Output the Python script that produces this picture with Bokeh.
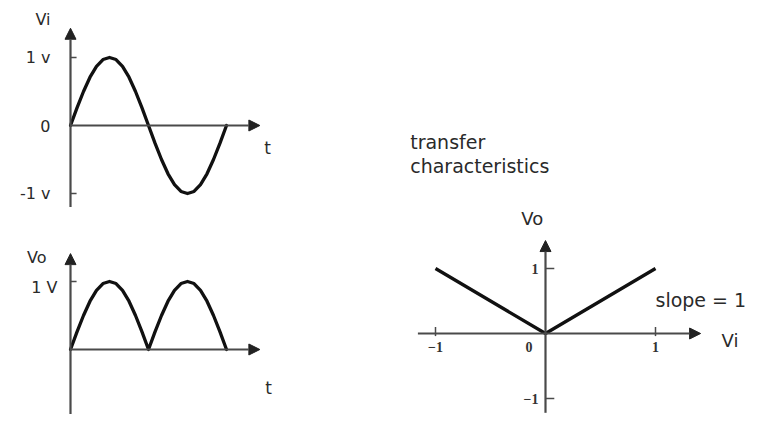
from bokeh.plotting import figure
from bokeh.models import Range1d, Arrow, NormalHead
from bokeh.core.properties import value
from bokeh.embed import file_html
from bokeh.resources import INLINE

# ---------------- data ----------------
phase_deg = [0, 15, 30, 45, 60, 75, 90, 105, 120, 135, 150, 165, 180,
             195, 210, 225, 240, 255, 270, 285, 300, 315, 330, 345, 360]
vi_values = [0, 0.26, 0.5, 0.71, 0.87, 0.97, 1.0, 0.97, 0.87, 0.71, 0.5, 0.26, 0,
             -0.26, -0.5, -0.71, -0.87, -0.97, -1.0, -0.97, -0.87, -0.71, -0.5, -0.26, 0]
vo_values = [0, 0.26, 0.5, 0.71, 0.87, 0.97, 1.0, 0.97, 0.87, 0.71, 0.5, 0.26, 0,
             0.26, 0.5, 0.71, 0.87, 0.97, 1.0, 0.97, 0.87, 0.71, 0.5, 0.26, 0]

vi_tick_vals = [1, 0, -1]
vi_tick_labels = ["1 v", "0", "-1 v"]
vo_tick_vals = [1]
vo_tick_labels = ["1 V"]

tc_vi = [-1, 0, 1]
tc_vo = [1, 0, 1]
tc_x_ticks = [-1, 1]
tc_x_tick_labels = ["\u22121", "0", "1"]
tc_x_label_pos = [-1, -0.15, 1]
tc_y_ticks = [1, -1]
tc_y_tick_labels = ["1", "\u22121"]

title_lines = ["transfer", "characteristics"]

# ---------------- figure ----------------
W, H = 766, 414
p = figure(width=W, height=H, output_backend="svg", toolbar_location=None,
           x_range=Range1d(0, W), y_range=Range1d(0, H), min_border=0,
           x_axis_type=None, y_axis_type=None)
p.grid.visible = False
p.outline_line_color = None
p.background_fill_color = "white"


def span(v0, p0, v1, p1, lo, hi):
    k = (v1 - v0) / (p1 - p0)
    return Range1d(start=v0 + (lo - p0) * k, end=v0 + (hi - p0) * k)


# picture pixel anchors (frame spans x 0..W, y 0..H)
p.extra_x_ranges = {
    "wave": span(0, 70, 360, 226, 0, W),
    "tc": span(0, 545, 1, 655, 0, W),
}
p.extra_y_ranges = {
    "vi": span(0, 125, 1, 57, H, 0),
    "vo": span(0, 349, 1, 281, H, 0),
    "tc": span(0, 333, 1, 268, H, 0),
}

AX = "#4a4a4a"
CUR = "#111111"
TXT = "#2a2a2a"
SANS = value("DejaVu Sans")


def arrow(x0, y0, x1, y1, xr, yr):
    p.add_layout(Arrow(x_start=x0, y_start=y0, x_end=x1, y_end=y1,
                       end=NormalHead(size=11, fill_color="#222222", line_color="#222222", line_width=1),
                       line_width=2.2, line_color=AX, x_range_name=xr, y_range_name=yr))


# ---- Vi plot ----
arrow(0, -1.2, 0, 1.43, "wave", "vi")
arrow(0, 0, 437, 0, "wave", "vi")
p.segment(x0=[0] * 2, y0=[1, -1], x1=[14] * 2, y1=[1, -1], x_range_name="wave", y_range_name="vi",
          line_color=AX, line_width=1.5)
p.line(phase_deg, vi_values, x_range_name="wave", y_range_name="vi",
       line_width=3.3, line_color=CUR, line_join="round", line_cap="round")
p.text(x=[0] * 3, y=vi_tick_vals, text=vi_tick_labels, x_range_name="wave", y_range_name="vi",
       x_offset=-20, text_align="right", text_baseline="middle", text_font=SANS,
       text_font_size="16px", text_color=TXT)
p.text(x=[0], y=[1.56], text=["Vi"], x_range_name="wave", y_range_name="vi",
       x_offset=-20, text_align="right", text_baseline="middle", text_font=SANS,
       text_font_size="16px", text_color=TXT)
p.text(x=[455], y=[-0.33], text=["t"], x_range_name="wave", y_range_name="vi",
       text_align="center", text_baseline="middle", text_font=SANS,
       text_font_size="17px", text_color=TXT)

# ---- Vo plot ----
arrow(0, -1.3, 0, 1.41, "wave", "vo")
arrow(0, 0, 437, 0, "wave", "vo")
p.segment(x0=[0] * 2, y0=[1, -1.04], x1=[14] * 2, y1=[1, -1.04], x_range_name="wave", y_range_name="vo",
          line_color=AX, line_width=1.5)
p.line(phase_deg, vo_values, x_range_name="wave", y_range_name="vo",
       line_width=3.3, line_color=CUR, line_join="round", line_cap="round")
p.text(x=[0], y=[0.91], text=vo_tick_labels, x_range_name="wave", y_range_name="vo",
       x_offset=-13, text_align="right", text_baseline="middle", text_font=SANS,
       text_font_size="16px", text_color=TXT)
p.text(x=[0], y=[1.35], text=["Vo"], x_range_name="wave", y_range_name="vo",
       x_offset=-24, text_align="right", text_baseline="middle", text_font=SANS,
       text_font_size="16px", text_color=TXT)
p.text(x=[457], y=[-0.56], text=["t"], x_range_name="wave", y_range_name="vo",
       text_align="center", text_baseline="middle", text_font=SANS,
       text_font_size="17px", text_color=TXT)

# ---- transfer characteristic ----
arrow(-1.16, 0, 1.41, 0, "tc", "tc")
arrow(0, -1.22, 0, 1.43, "tc", "tc")
p.segment(x0=tc_x_ticks, y0=[-0.04] * 2, x1=tc_x_ticks, y1=[0.1] * 2, x_range_name="tc", y_range_name="tc",
          line_color=AX, line_width=1.5)
p.segment(x0=[0] * 2, y0=tc_y_ticks, x1=[0.08] * 2, y1=tc_y_ticks, x_range_name="tc", y_range_name="tc",
          line_color=AX, line_width=1.5)
p.line(tc_vi, tc_vo, x_range_name="tc", y_range_name="tc",
       line_width=3.3, line_color=CUR, line_join="round")
p.text(x=tc_x_label_pos, y=[-0.2] * 3, text=tc_x_tick_labels, x_range_name="tc", y_range_name="tc",
       text_align="center", text_baseline="middle", text_font=value("Liberation Serif"),
       text_font_style="bold", text_font_size="14px", text_color="#333333")
p.text(x=[0] * 2, y=tc_y_ticks, text=tc_y_tick_labels, x_range_name="tc", y_range_name="tc",
       x_offset=-7, text_align="right", text_baseline="middle", text_font=value("Liberation Serif"),
       text_font_style="bold", text_font_size="14px", text_color="#333333")
p.text(x=[-0.12], y=[1.77], text=["Vo"], x_range_name="tc", y_range_name="tc",
       text_align="center", text_baseline="middle", text_font=SANS,
       text_font_size="18px", text_color=TXT)
p.text(x=[1.6], y=[-0.1], text=["Vi"], x_range_name="tc", y_range_name="tc",
       text_align="left", text_baseline="middle", text_font=SANS,
       text_font_size="18px", text_color=TXT)
p.text(x=[1.0], y=[0.51], text=["slope = 1"], x_range_name="tc", y_range_name="tc",
       text_align="left", text_baseline="middle", text_font=SANS,
       text_font_size="19px", text_color=TXT)
p.text(x=[-1.23] * 2, y=[2.94, 2.58], text=title_lines, x_range_name="tc", y_range_name="tc",
       text_align="left", text_baseline="middle", text_font=SANS,
       text_font_size="19px", text_color=TXT)

open("out.html", "w").write(file_html(p, INLINE))
